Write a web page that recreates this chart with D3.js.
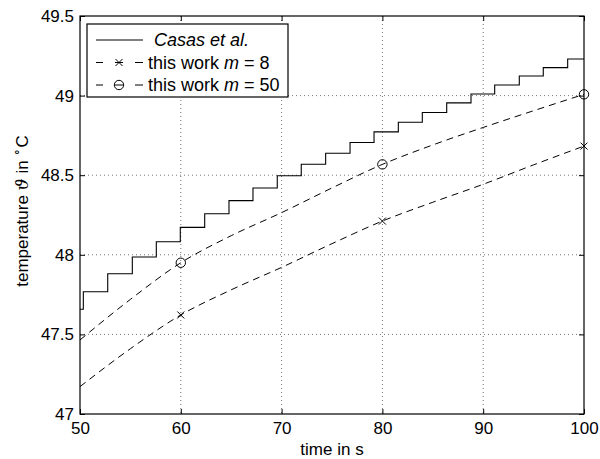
<!DOCTYPE html>
<html>
<head>
<meta charset="utf-8">
<script src="https://cdn.jsdelivr.net/npm/d3@7"></script>
<style>
  body { margin: 0; background: #fff; }
  svg { font-family: "Liberation Sans", Arial, sans-serif; }
</style>
</head>
<body>
<svg id="chart" width="600" height="459"></svg>
<script>
// step data (Casas et al.)
var casasTime = [50, 50.33, 52.75, 55.19, 57.57, 59.95, 62.37, 64.78, 67.16, 69.57, 71.95,
  74.37, 76.79, 79.17, 81.58, 83.96, 86.38, 88.79, 91.14, 93.58, 95.96, 98.38, 100];
var casasTemp = [47.658, 47.768, 47.881, 47.986, 48.082, 48.172, 48.258, 48.340, 48.420, 48.497, 48.569,
  48.638, 48.705, 48.772, 48.833, 48.894, 48.954, 49.010, 49.067, 49.123, 49.176, 49.230, 49.230];

// smooth curves, sampled every 5 s
var curveTime = [50, 55, 60, 65, 70, 75, 80, 85, 90, 95, 100];
var m8Temp  = [47.172, 47.41, 47.622, 47.78, 47.921, 48.07, 48.212, 48.33, 48.443, 48.565, 48.683];
var m50Temp = [47.465, 47.72, 47.950, 48.12, 48.265, 48.42, 48.568, 48.69, 48.800, 48.905, 49.008];
var markerTime = [60, 80, 100];

var xTicks = [50, 60, 70, 80, 90, 100];
var yTicks = [47, 47.5, 48, 48.5, 49, 49.5];

var margin = {top: 16, right: 16, bottom: 45, left: 80};
var width = 600 - margin.left - margin.right;
var height = 459 - margin.top - margin.bottom;

var svg = d3.select("#chart");
var g = svg.append("g").attr("transform", `translate(${margin.left},${margin.top})`);

var x = d3.scaleLinear().domain([50, 100]).range([0, width]);
var y = d3.scaleLinear().domain([47, 49.5]).range([height, 0]);

// grid
g.append("g").selectAll("line")
  .data(xTicks.slice(1, -1)).enter().append("line")
  .attr("x1", d => x(d)).attr("x2", d => x(d))
  .attr("y1", 0).attr("y2", height)
  .attr("stroke", "#777").attr("stroke-dasharray", "1,3");
g.append("g").selectAll("line")
  .data(yTicks.slice(1, -1)).enter().append("line")
  .attr("y1", d => y(d)).attr("y2", d => y(d))
  .attr("x1", 0).attr("x2", width)
  .attr("stroke", "#777").attr("stroke-dasharray", "1,3");

// axes (ticks inward, MATLAB style)
var fs = "17px";
var xAxis = g.append("g").attr("transform", `translate(0,${height})`)
  .call(d3.axisBottom(x).tickValues(xTicks).tickSize(-5).tickPadding(10));
var yAxis = g.append("g")
  .call(d3.axisLeft(y).tickValues(yTicks).tickSize(-5).tickPadding(6).tickFormat(d3.format("")));
g.append("g").call(d3.axisTop(x).tickValues(xTicks).tickSize(-5).tickFormat(""));
g.append("g").attr("transform", `translate(${width},0)`)
  .call(d3.axisRight(y).tickValues(yTicks).tickSize(-5).tickFormat(""));
g.selectAll(".domain").remove();
g.selectAll(".tick line").attr("stroke", "#000");
g.selectAll(".tick text").attr("font-size", fs).attr("font-family", "Liberation Sans, Arial, sans-serif").attr("fill", "#000");
xAxis.selectAll(".tick text").attr("dy", "0.6em");

g.append("rect").attr("width", width).attr("height", height)
  .attr("fill", "none").attr("stroke", "#000").attr("stroke-width", 1.2);

// lines
var stair = d3.line().x(d => x(d[0])).y(d => y(d[1])).curve(d3.curveStepAfter);
g.append("path")
  .datum(casasTime.map((t, i) => [t, casasTemp[i]]))
  .attr("d", stair).attr("fill", "none").attr("stroke", "#000").attr("stroke-width", 1.1);

var smooth = d3.line().x(d => x(d[0])).y(d => y(d[1])).curve(d3.curveMonotoneX);
[m8Temp, m50Temp].forEach(function (vals) {
  g.append("path")
    .datum(curveTime.map((t, i) => [t, vals[i]]))
    .attr("d", smooth).attr("fill", "none").attr("stroke", "#000")
    .attr("stroke-width", 1).attr("stroke-dasharray", "7,5");
});

function cross(sel, cx, cy) {
  var s = 3.5;
  sel.append("path").attr("d", `M${cx - s},${cy - s}L${cx + s},${cy + s}M${cx - s},${cy + s}L${cx + s},${cy - s}`)
    .attr("stroke", "#000").attr("stroke-width", 1);
}
function circ(sel, cx, cy) {
  sel.append("circle").attr("cx", cx).attr("cy", cy).attr("r", 4.7)
    .attr("fill", "none").attr("stroke", "#000").attr("stroke-width", 1);
}
markerTime.forEach(function (t) {
  var i = curveTime.indexOf(t);
  cross(g, x(t), y(m8Temp[i]));
  circ(g, x(t), y(m50Temp[i]));
});

// axis labels
svg.append("text").attr("x", margin.left + width / 2).attr("y", 455)
  .attr("text-anchor", "middle").attr("font-size", fs).text("time in s");
var yl = svg.append("text").attr("transform", `translate(28,${margin.top + height / 2 - 4}) rotate(-90)`)
  .attr("text-anchor", "middle").attr("font-size", fs);
yl.append("tspan").text("temperature ");
yl.append("tspan").attr("font-family", "DejaVu Serif, serif").attr("font-style", "italic").text("ϑ");
yl.append("tspan").text(" in ");
yl.append("tspan").attr("font-size", "12px").attr("dy", "-7").text("∘");
yl.append("tspan").attr("dy", "7").text("C");

// legend
var lg = svg.append("g").attr("transform", "translate(87,24)");
lg.append("rect").attr("width", 201).attr("height", 73)
  .attr("fill", "#fff").attr("stroke", "#000").attr("stroke-width", 1.2);
var rows = [
  {label: "Casas", dash: null, mark: null},
  {label: "8", dash: "6,5", mark: cross},
  {label: "50", dash: "6,5", mark: circ}
];
rows.forEach(function (r, i) {
  var cy = 16 + i * 22.5;
  if (r.dash) {
    lg.append("line").attr("x1", 9).attr("x2", 16).attr("y1", cy).attr("y2", cy).attr("stroke", "#000");
    lg.append("line").attr("x1", 28).attr("x2", 36).attr("y1", cy).attr("y2", cy).attr("stroke", "#000");
    lg.append("line").attr("x1", 48).attr("x2", 56).attr("y1", cy).attr("y2", cy).attr("stroke", "#000");
    r.mark(lg, 32, cy);
    var t = lg.append("text").attr("x", 61).attr("y", cy + 6).attr("font-size", "18px");
    t.append("tspan").text("this work ");
    t.append("tspan").attr("font-style", "italic").text("m");
    t.append("tspan").text(" = " + r.label);
  } else {
    lg.append("line").attr("x1", 9).attr("x2", 56).attr("y1", cy).attr("y2", cy).attr("stroke", "#000");
    lg.append("text").attr("x", 67).attr("y", cy + 6).attr("font-size", "18px")
      .attr("font-style", "italic").text("Casas et al.");
  }
});
</script>
</body>
</html>
